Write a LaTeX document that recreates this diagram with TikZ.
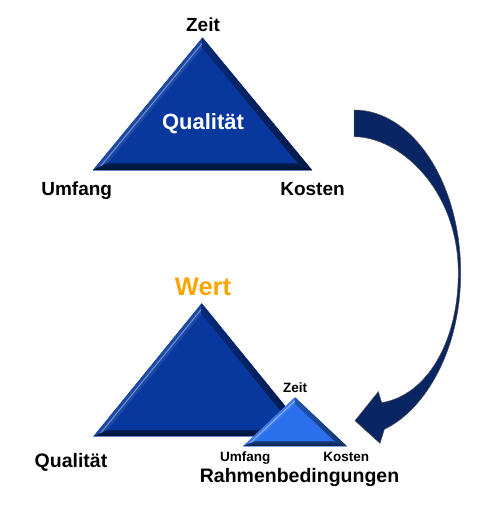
\documentclass[tikz,border=0pt]{standalone}
\usepackage{fontspec}
\setmainfont{Liberation Sans}
\usetikzlibrary{calc}
\definecolor{bigblue}{RGB}{8,56,158}
\definecolor{smallblue}{RGB}{42,112,236}
\definecolor{arrowblue}{RGB}{10,37,100}
\definecolor{wertorange}{RGB}{250,165,0}
\newcommand\bevtri[7]{%
 \pgfmathsetmacro\btS{100*sqrt((#3/100)*(#3/100)+(#4/100)*(#4/100))}%
 \pgfmathsetmacro\btR{(#3)/((#3)+\btS)*(#4)}%
 \pgfmathsetmacro\btK{(\btR-(#5))/\btR}%
 \pgfmathsetmacro\btIy{(#2)+(#4)-\btR}%
 \pgfmathsetmacro\btAy{\btIy-((#4)-\btR)*\btK}%
 \pgfmathsetmacro\btBy{(#2)+(#4)-(#5)}%
 \pgfmathsetmacro\btW{(#3)*\btK}%
 \coordinate (#7A) at (#1,#2);
 \coordinate (#7L) at ({#1-#3},{#2+#4});
 \coordinate (#7R) at ({#1+#3},{#2+#4});
 \coordinate (#7a) at (#1,\btAy);
 \coordinate (#7l) at ({#1-\btW},\btBy);
 \coordinate (#7r) at ({#1+\btW},\btBy);
 \fill[#6] (#7A)--(#7L)--(#7R)--cycle;
 \fill[#6!92!white] (#7A)--(#7L)--(#7l)--(#7a)--cycle;
 \draw[#6!55!white, line width=1pt] ($(#7A)!0.5!(#7a)$)--($(#7L)!0.5!(#7l)$);
 \shade[left color=#6!75!black, right color=#6!45!black] (#7A)--(#7R)--(#7r)--(#7a)--cycle;
 \shade[top color=#6!55!black, bottom color=#6!30!black] (#7L)--(#7R)--(#7r)--(#7l)--cycle;
 \draw[#6!60!white, line width=0.8pt] (#7L)--(#7R);
 \fill[#6] (#7a)--(#7l)--(#7r)--cycle;
}
\tikzset{
 lab/.style={anchor=base, inner sep=0pt, font=\bfseries\fontsize{19}{19}\selectfont, text=black},
 smalllab/.style={anchor=base, inner sep=0pt, font=\bfseries\fontsize{13.5}{13.5}\selectfont, text=black},
 arrowshape/.style={fill=arrowblue, draw=black!70, line width=0.5pt, line join=miter}
}
\begin{document}
\begin{tikzpicture}[x=1pt,y=-1pt]
\useasboundingbox (0,0) rectangle (485,508);
% top triangle
\bevtri{202.5}{37.5}{109.5}{132.5}{7}{bigblue}{t}
\node[lab] (zeit1) at (203,31.7) {Zeit};
\node[lab] (umfang1) at (76.7,195) {Umfang};
\node[lab] (kosten1) at (312.5,195) {Kosten};
\node[anchor=base, inner sep=0pt, font=\bfseries\fontsize{22}{22}\selectfont, text=white] (qual1) at (203,129) {Qualität};
% bottom big triangle
\bevtri{201.7}{303.3}{108.5}{133.4}{7}{bigblue}{b}
\node[anchor=base, inner sep=0pt, font=\bfseries\fontsize{25.5}{25.5}\selectfont, text=wertorange] (wert) at (203,295) {Wert};
\node[anchor=base, inner sep=0pt, font=\bfseries\fontsize{19.5}{19.5}\selectfont] (qual2) at (71,467.3) {Qualität};
% small triangle
\bevtri{295}{397.3}{51.7}{48.7}{5}{smallblue}{s}
\node[smalllab] (zeit2) at (295,392.7) {Zeit};
\node[smalllab] (umfang2) at (245.3,461.7) {Umfang};
\node[smalllab] (kosten2) at (346.3,461.7) {Kosten};
\node[anchor=base, inner sep=0pt, font=\bfseries\fontsize{19.5}{19.5}\selectfont] (rahmen) at (299.5,482.7) {Rahmenbedingungen};
% curved arrow
\path[arrowshape] (354,110) .. controls (412.7,110) and (460.7,183) .. (460.7,273)
  .. controls (460.7,350) and (425,410) .. (384.3,429.3)
  -- (380,443.3) -- (355,420.7) -- (378.3,391.7) -- (381.7,402.7)
  .. controls (428,395) and (458.3,340) .. (458.3,273)
  .. controls (458.3,190) and (400,136.7) .. (354,136.7) -- cycle;
\end{tikzpicture}
\end{document}
